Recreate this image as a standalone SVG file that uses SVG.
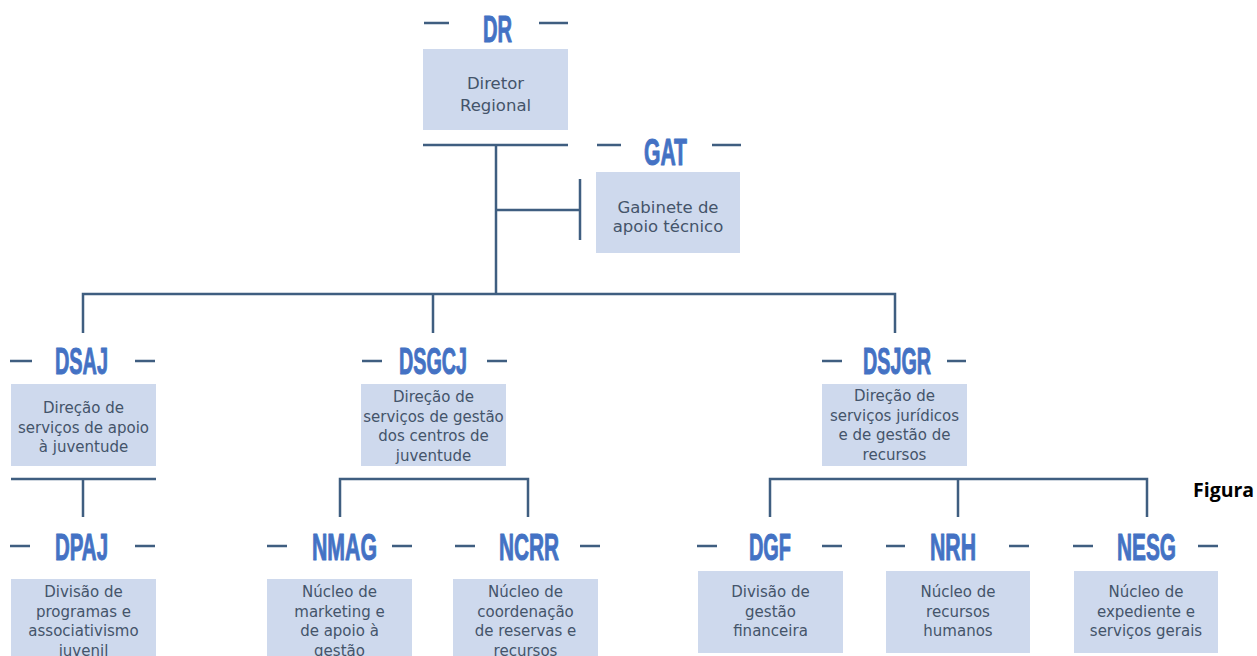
<svg xmlns="http://www.w3.org/2000/svg" width="1257" height="656" viewBox="0 0 1257 656">
<style>
.bg{fill:#ffffff}
.box{fill:#CED9ED}
.ln{stroke:#3F5E80;stroke-width:2.5;fill:none;stroke-linecap:butt}
.h{font-family:"Liberation Sans",Arial,sans-serif;font-weight:bold;font-size:37px;fill:#4472C4;stroke:#4472C4;stroke-width:1;stroke-linejoin:round}
.t{font-family:"DejaVu Sans",sans-serif;font-size:15px;fill:#44546A;text-anchor:middle}
.tl{font-size:16.5px}
.fig{font-family:"Open Sans","Liberation Sans",sans-serif;font-weight:bold;font-size:19.5px;fill:#000000}
</style>
<rect class="bg" x="0" y="0" width="1257" height="656"/>

<g id="connectors">
<path class="ln" d="M423 145H568"/>
<path class="ln" d="M496 145V294"/>
<path class="ln" d="M496 210H580M580 179V240"/>
<path class="ln" d="M83 333V294H895V333M433 294V333"/>
<path class="ln" d="M11 479H156M83 479V517"/>
<path class="ln" d="M340 517V479H528V517"/>
<path class="ln" d="M770 517V479H1147V517M958 479V517"/>
</g>

<g id="DR">
<path class="ln" d="M424 23H449M539 23H568"/>
<text class="h" x="483" y="42" textLength="29" lengthAdjust="spacingAndGlyphs">DR</text>
<rect class="box" x="423" y="49" width="145" height="81"/>
<text class="t tl" x="495.5" y="89">Diretor</text>
<text class="t tl" x="495.5" y="111">Regional</text>
</g>

<g id="GAT">
<path class="ln" d="M597 145H621M712 145H741"/>
<text class="h" x="644" y="165" textLength="43" lengthAdjust="spacingAndGlyphs">GAT</text>
<rect class="box" x="596" y="172" width="144" height="81"/>
<text class="t tl" x="668" y="213">Gabinete de</text>
<text class="t tl" x="668" y="232">apoio técnico</text>
</g>

<g id="DSAJ">
<path class="ln" d="M10 361H32M135 361H155"/>
<text class="h" x="55" y="374" textLength="53" lengthAdjust="spacingAndGlyphs">DSAJ</text>
<rect class="box" x="11" y="384" width="145" height="82"/>
<text class="t" x="83.5" y="413">Direção de</text>
<text class="t" x="83.5" y="433">serviços de apoio</text>
<text class="t" x="83.5" y="452">à juventude</text>
</g>

<g id="DSGCJ">
<path class="ln" d="M362 361H382M487 361H507"/>
<text class="h" x="399" y="374" textLength="68" lengthAdjust="spacingAndGlyphs">DSGCJ</text>
<rect class="box" x="361" y="384" width="145" height="82"/>
<text class="t" x="433.5" y="402">Direção de</text>
<text class="t" x="433.5" y="422">serviços de gestão</text>
<text class="t" x="433.5" y="441">dos centros de</text>
<text class="t" x="433.5" y="461">juventude</text>
</g>

<g id="DSJGR">
<path class="ln" d="M822 361H842M947 361H966"/>
<text class="h" x="863" y="374" textLength="68" lengthAdjust="spacingAndGlyphs">DSJGR</text>
<rect class="box" x="822" y="384" width="145" height="82"/>
<text class="t" x="894.5" y="401">Direção de</text>
<text class="t" x="894.5" y="421">serviços jurídicos</text>
<text class="t" x="894.5" y="440">e de gestão de</text>
<text class="t" x="894.5" y="460">recursos</text>
</g>

<g id="DPAJ">
<path class="ln" d="M10 546H30M135 546H155"/>
<text class="h" x="55" y="560" textLength="53" lengthAdjust="spacingAndGlyphs">DPAJ</text>
<rect class="box" x="11" y="579" width="145" height="82"/>
<text class="t" x="83.5" y="597">Divisão de</text>
<text class="t" x="83.5" y="617">programas e</text>
<text class="t" x="83.5" y="636">associativismo</text>
<text class="t" x="83.5" y="656">juvenil</text>
</g>

<g id="NMAG">
<path class="ln" d="M267 546H287M392 546H412"/>
<text class="h" x="312" y="560" textLength="65" lengthAdjust="spacingAndGlyphs">NMAG</text>
<rect class="box" x="267" y="579" width="145" height="82"/>
<text class="t" x="339.5" y="597">Núcleo de</text>
<text class="t" x="339.5" y="617">marketing e</text>
<text class="t" x="339.5" y="636">de apoio à</text>
<text class="t" x="339.5" y="656">gestão</text>
</g>

<g id="NCRR">
<path class="ln" d="M455 546H475M580 546H600"/>
<text class="h" x="499" y="560" textLength="60" lengthAdjust="spacingAndGlyphs">NCRR</text>
<rect class="box" x="453" y="579" width="145" height="82"/>
<text class="t" x="525.5" y="597">Núcleo de</text>
<text class="t" x="525.5" y="617">coordenação</text>
<text class="t" x="525.5" y="636">de reservas e</text>
<text class="t" x="525.5" y="656">recursos</text>
</g>

<g id="DGF">
<path class="ln" d="M697 546H717M822 546H842"/>
<text class="h" x="749" y="560" textLength="42" lengthAdjust="spacingAndGlyphs">DGF</text>
<rect class="box" x="698" y="571" width="145" height="82"/>
<text class="t" x="770.5" y="597">Divisão de</text>
<text class="t" x="770.5" y="617">gestão</text>
<text class="t" x="770.5" y="636">financeira</text>
</g>

<g id="NRH">
<path class="ln" d="M886 546H905M1009 546H1029"/>
<text class="h" x="930" y="560" textLength="46" lengthAdjust="spacingAndGlyphs">NRH</text>
<rect class="box" x="886" y="571" width="144" height="82"/>
<text class="t" x="958" y="597">Núcleo de</text>
<text class="t" x="958" y="617">recursos</text>
<text class="t" x="958" y="636">humanos</text>
</g>

<g id="NESG">
<path class="ln" d="M1073 546H1093M1198 546H1218"/>
<text class="h" x="1117" y="560" textLength="59" lengthAdjust="spacingAndGlyphs">NESG</text>
<rect class="box" x="1074" y="571" width="144" height="82"/>
<text class="t" x="1146" y="597">Núcleo de</text>
<text class="t" x="1146" y="617">expediente e</text>
<text class="t" x="1146" y="636">serviços gerais</text>
</g>

<text class="fig" x="1193" y="497">Figura</text>
</svg>
